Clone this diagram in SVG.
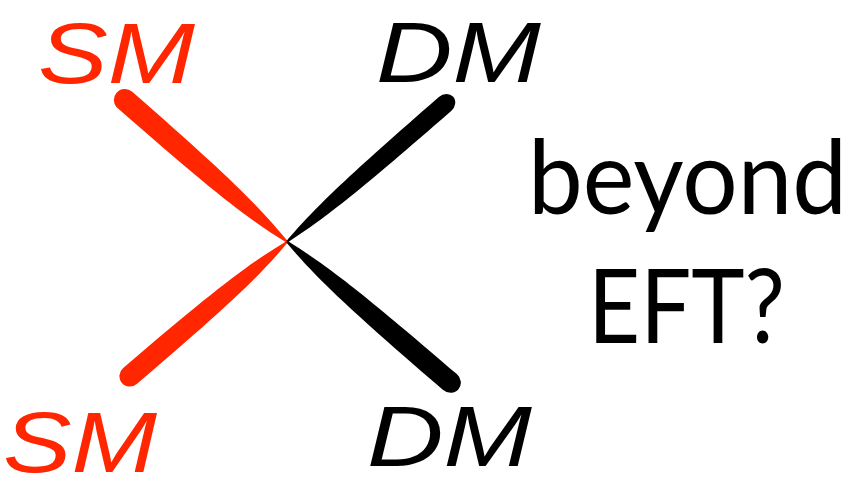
<svg xmlns="http://www.w3.org/2000/svg" width="862" height="494" viewBox="0 0 862 494">
<style>
.red{fill:#ff2600}
.blk{fill:#000}
.hand{font-family:"Liberation Sans","DejaVu Sans",sans-serif;font-style:italic;font-size:86px}
.big{font-family:Lato,"Liberation Sans",sans-serif;font-size:102px;fill:#000}
</style>
<defs>
<path id="brush" d="M0 -11 C120 -11 165 -9 212 -1 L212 1 C165 9 120 11 0 11 A11 11 0 0 1 0 -11 Z"/>
</defs>
<rect width="862" height="494" fill="#fff"/>
<g id="connectors">
<use href="#brush" class="red" transform="translate(125 100) rotate(41.2) scale(1.014 1)"/>
<use href="#brush" class="red" transform="translate(130 376) rotate(-40.5) scale(0.974 0.95)"/>
<use href="#brush" class="blk" transform="translate(445 104) rotate(138.9) scale(0.99 0.85)"/>
<use href="#brush" class="blk" transform="translate(450 382) rotate(-139.3) scale(1.014 0.95)"/>
</g>
<g id="sm-top"><text class="hand red" x="38" y="83" textLength="157" lengthAdjust="spacingAndGlyphs">SM</text></g>
<g id="dm-top"><text class="hand blk" x="376" y="82" textLength="165" lengthAdjust="spacingAndGlyphs">DM</text></g>
<g id="sm-bottom"><text class="hand red" x="3" y="472" textLength="154" lengthAdjust="spacingAndGlyphs">SM</text></g>
<g id="dm-bottom"><text class="hand blk" x="367" y="466" textLength="165" lengthAdjust="spacingAndGlyphs">DM</text></g>
<g id="label">
<text class="big" x="528" y="214" textLength="319" lengthAdjust="spacingAndGlyphs">beyond</text>
<text class="big" x="588" y="343" textLength="197" lengthAdjust="spacingAndGlyphs">EFT?</text>
</g>
</svg>
